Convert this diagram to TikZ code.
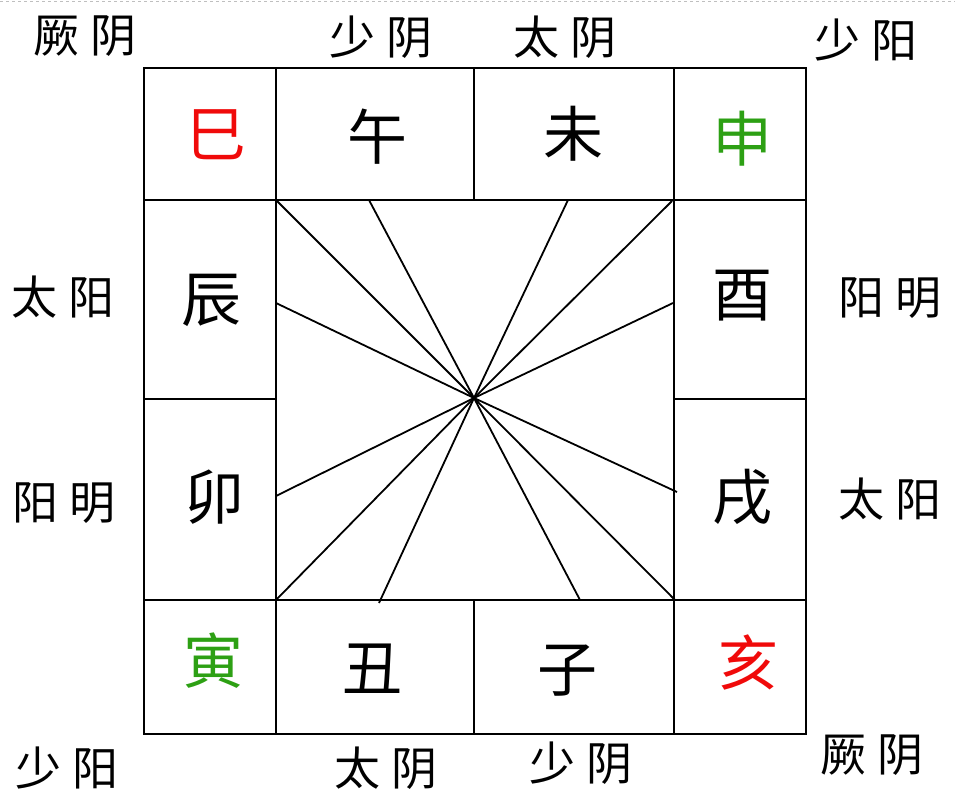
\documentclass[tikz,border=0pt]{standalone}
\usepackage{fontspec}
\newfontfamily\cjk{Noto Sans CJK SC}
\definecolor{zred}{RGB}{240,10,10}
\definecolor{zgreen}{RGB}{45,160,20}
\begin{document}
\begin{tikzpicture}[x=1pt,y=-1pt,
  grid/.style={line width=1.8pt,black},
  fan/.style={line width=1.8pt,black},
  branch/.style={inner sep=0pt,font=\cjk\fontsize{60}{60}\selectfont},
  qi/.style={inner sep=0pt,font=\cjk\fontsize{46}{46}\selectfont}]
\useasboundingbox (0,0) rectangle (955,798);
\draw[gray!50,dashed,line width=0.7pt] (0,1) -- (955,1);
% grid
\draw[grid] (144,68) rectangle (806,734);
\draw[grid] (144,200) -- (806,200);
\draw[grid] (144,600) -- (806,600);
\draw[grid] (276,68) -- (276,734);
\draw[grid] (674,68) -- (674,734);
\draw[grid] (474,68) -- (474,200);
\draw[grid] (474,600) -- (474,734);
\draw[grid] (144,399) -- (276,399);
\draw[grid] (674,399) -- (806,399);
% fan
\coordinate (c) at (474,398);
\coordinate (e1) at (276,200);
\coordinate (e2) at (369,200);
\coordinate (e3) at (568,200);
\coordinate (e4) at (672,201);
\coordinate (e5) at (276,303);
\coordinate (e6) at (673,303);
\coordinate (e7) at (276,496);
\coordinate (e8) at (677,492);
\coordinate (e9) at (276,600);
\coordinate (e10) at (379,603);
\coordinate (e11) at (580,600);
\coordinate (e12) at (675,600);
\foreach \i in {1,...,12} \draw[fan] (c) -- (e\i);
% branches
\node[branch,text=zred] (si) at (216,135) {巳};
\node[branch] (wu) at (377,137) {午};
\node[branch] (wei) at (573,134) {未};
\node[branch,text=zgreen] (shen) at (742,139) {申};
\node[branch] (chen) at (211,300) {辰};
\node[branch] (you) at (742,296) {酉};
\node[branch] (mao) at (214,497) {卯};
\node[branch] (xu) at (742,497) {戌};
\node[branch,text=zgreen] (yin) at (213,661) {寅};
\node[branch] (chou) at (372,669) {丑};
\node[branch] (zi) at (567,671) {子};
\node[branch,text=zred] (hai) at (748,662) {亥};
% qi labels
\node[qi] (l1) at (85,36) {厥 阴};
\node[qi] (l2) at (381,37) {少 阴};
\node[qi] (l3) at (565,37) {太 阴};
\node[qi] (l4) at (866,40) {少 阳};
\node[qi] (l5) at (63,297) {太 阳};
\node[qi] (l6) at (64,503) {阳 明};
\node[qi] (l7) at (890,298) {阳 明};
\node[qi] (l8) at (890,499) {太 阳};
\node[qi] (l9) at (67,768) {少 阳};
\node[qi] (l10) at (386,768) {太 阴};
\node[qi] (l11) at (581,763) {少 阴};
\node[qi] (l12) at (872,755) {厥 阴};
\end{tikzpicture}
\end{document}
